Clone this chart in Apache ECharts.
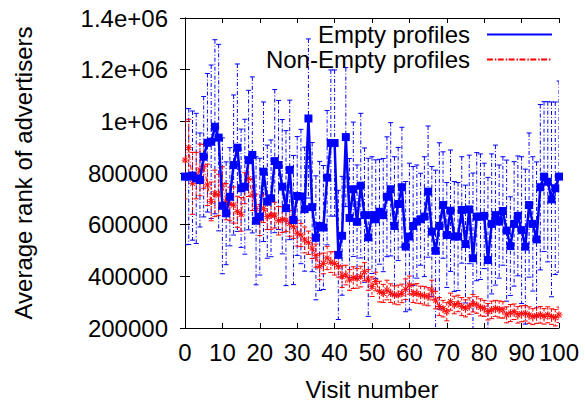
<!DOCTYPE html>
<html>
<head>
<meta charset="utf-8">
<script src="https://cdn.jsdelivr.net/npm/echarts@6/dist/echarts.min.js"></script>
<style>
html, body { margin: 0; padding: 0; background: #fff; }
#chart { width: 585px; height: 402px; }
</style>
</head>
<body>
<div id="chart"></div>
<script>
var emptyMean = [786, 786, 790, 779, 773, 863, 917, 921, 979, 937,
    673, 644, 708, 831, 898, 741, 747, 850, 870, 615,
    631, 805, 689, 702, 846, 831, 747, 664, 812, 618,
    711, 709, 660, 1011, 668, 549, 595, 589, 782, 916,
    916, 483, 557, 939, 626, 737, 611, 751, 637,
    551, 637, 621, 650, 637, 708, 737, 595, 680, 745,
    515, 554, 595, 612, 621, 631, 728, 573, 499, 595,
    676, 560, 654, 554, 554, 657, 525, 659, 470, 631,
    631, 634, 463, 603, 637, 612, 653, 577, 517, 603,
    634, 579, 515, 676, 603, 543, 745, 786, 766, 698,
    741, 786];
var emptyErr = [264, 263, 250, 252, 182, 233, 268, 297, 337, 361,
    263, 199, 190, 271, 324, 229, 261, 270, 302, 248,
    226, 270, 219, 226, 277, 250, 260, 300, 270, 250,
    230, 260, 240, 308, 250, 240, 250, 240, 260, 283,
    283, 250, 230, 269, 230, 260, 220, 280, 260,
    306, 226, 230, 203, 219, 232, 258, 268, 219, 232,
    252, 284, 230, 219, 178, 232, 254, 252, 312, 322,
    206, 203, 235, 213, 209, 206, 228, 210, 330, 248,
    243, 204, 320, 271, 271, 219, 210, 273, 191, 241,
    232, 284, 300, 279, 260, 300, 320, 290, 310, 377,
    334, 370];
var nonEmptyMean = [850, 898, 760, 790, 812, 826, 754, 690, 721, 715,
    754, 689, 680, 676, 650, 640, 741, 779, 715, 663,
    618, 663, 631, 637, 637, 615, 620, 618, 605, 592,
    567, 560, 541, 530, 509, 480, 437, 450, 471, 455,
    450, 437, 399, 405, 386, 395, 392, 399, 418, 386,
    360, 380, 341, 334, 347, 335, 328, 328, 334, 350,
    366, 334, 334, 328, 325, 321, 347, 308, 283, 275,
    263, 302, 289, 295, 283, 276, 285, 296, 289, 280,
    276, 263, 270, 276, 272, 270, 251, 258, 263, 251,
    255, 257, 250, 244, 248, 251, 245, 251, 244, 240,
    251];
var nonEmptyErr = [150, 110, 120, 90, 100, 85, 80, 75, 90, 80,
    70, 70, 65, 70, 60, 65, 60, 70, 60, 55,
    60, 55, 50, 55, 50, 55, 50, 45, 50, 45,
    50, 45, 50, 45, 40, 45, 50, 40, 45, 40,
    45, 40, 42, 38, 40, 42, 38, 40, 35, 40,
    38, 36, 40, 35, 38, 36, 35, 38, 36, 40,
    35, 35, 38, 34, 36, 35, 38, 34, 35, 32,
    35, 33, 34, 32, 35, 33, 32, 34, 32, 33,
    31, 32, 34, 31, 33, 32, 31, 33, 30, 32,
    31, 30, 32, 31, 30, 32, 30, 31, 30, 32,
    30];
var yTicks = [200000, 400000, 600000, 800000, 1000000, 1200000, 1400000];
var xTicks = [0, 10, 20, 30, 40, 50, 60, 70, 80, 90, 100];

var FONT = 'Liberation Sans';
var BLUE = '#0000ff';
var RED = '#ff0000';

function points(mean) {
    return mean.map(function (v, i) { return [i, v * 1000]; });
}
function ranges(mean, err) {
    return mean.map(function (v, i) { return [i, (v - err[i]) * 1000, (v + err[i]) * 1000]; });
}

// error bars with small caps, drawn through the axes
function errorBars(mean, err, color, dash, z) {
    return {
        type: 'custom',
        silent: true,
        clip: true,
        z: z,
        encode: { x: 0, y: [1, 2] },
        data: ranges(mean, err),
        renderItem: function (params, api) {
            var lo = api.coord([api.value(0), api.value(1)]);
            var hi = api.coord([api.value(0), api.value(2)]);
            var w = 2.5;
            var st = { stroke: color, lineWidth: 1, lineDash: dash };
            return {
                type: 'group',
                children: [
                    { type: 'line', shape: { x1: hi[0], y1: hi[1], x2: lo[0], y2: lo[1] }, style: st },
                    { type: 'line', shape: { x1: hi[0] - w, y1: hi[1], x2: hi[0] + w, y2: hi[1] }, style: { stroke: color, lineWidth: 1 } },
                    { type: 'line', shape: { x1: lo[0] - w, y1: lo[1], x2: lo[0] + w, y2: lo[1] }, style: { stroke: color, lineWidth: 1 } }
                ]
            };
        }
    };
}

// asterisk marker made of thin filled bars
var starPath = 'path://M-0.5,-4h1v8h-1z M-4,-0.5h8v1h-8z M-3.2,-2.5L-2.5,-3.2L3.2,2.5L2.5,3.2z M3.2,-2.5L2.5,-3.2L-3.2,2.5L-2.5,3.2z';

// legend samples
var solidIcon = 'path://M0,0h64v2h-64z';
var dashIcon = 'path://';
for (var k = 0; k < 6; k++) {
    var s = k * 11;
    dashIcon += 'M' + s + ',0h6v2h-6z M' + (s + 8) + ',0h1.5v2h-1.5z ';
}
dashIcon += 'M66,0h0.01v2h-0.01z';

var chart = echarts.init(document.getElementById('chart'), null, { renderer: 'svg' });

var option = {
    animation: false,
    backgroundColor: '#fff',
    textStyle: { fontFamily: FONT },
    grid: { left: 185, right: 26, top: 18, bottom: 74, containLabel: false, outerBoundsMode: 'none' },
    legend: {
        orient: 'vertical',
        right: 33,
        top: 22,
        padding: 0,
        itemGap: 0,
        itemWidth: 65,
        itemHeight: 2,
        align: 'right',
        symbolKeepAspect: false,
        selectedMode: false,
        textStyle: { fontFamily: FONT, fontSize: 24, color: '#000', lineHeight: 25, padding: [0, 12, 0, 0] },
        data: [
            { name: 'Empty profiles', icon: solidIcon },
            { name: 'Non-Empty profiles', icon: dashIcon }
        ]
    },
    xAxis: [{
        type: 'value',
        min: 0, max: 100, interval: 10,
        name: 'Visit number',
        nameLocation: 'middle',
        nameGap: 49,
        nameTextStyle: { fontFamily: FONT, fontSize: 24, color: '#000' },
        axisLine: { show: true, lineStyle: { color: '#000', width: 1 } },
        axisTick: { show: true, inside: true, length: 5, lineStyle: { color: '#000' } },
        axisLabel: { fontFamily: FONT, fontSize: 24, color: '#000', margin: 12,
            customValues: xTicks },
        splitLine: { show: false }
    }, {
        type: 'value',
        position: 'top',
        min: 0, max: 100, interval: 10,
        axisLine: { show: true, lineStyle: { color: '#000', width: 1 } },
        axisTick: { show: true, inside: true, length: 5, lineStyle: { color: '#000' } },
        axisLabel: { show: false },
        splitLine: { show: false }
    }],
    yAxis: [{
        type: 'value',
        min: 200000, max: 1400000, interval: 200000,
        name: 'Average rank of advertisers',
        nameLocation: 'middle',
        nameGap: 150,
        nameTextStyle: { fontFamily: FONT, fontSize: 24, color: '#000' },
        axisLine: { show: true, lineStyle: { color: '#000', width: 1 } },
        axisTick: { show: true, inside: true, length: 5, lineStyle: { color: '#000' } },
        axisLabel: {
            fontFamily: FONT, fontSize: 24, color: '#000', margin: 17,
            customValues: yTicks,
            formatter: function (v) {
                return v >= 1000000 ? (v / 1000000) + 'e+06' : String(v);
            }
        },
        splitLine: { show: false }
    }, {
        type: 'value',
        position: 'right',
        min: 200000, max: 1400000, interval: 200000,
        axisLine: { show: true, lineStyle: { color: '#000', width: 1 } },
        axisTick: { show: true, inside: true, length: 5, lineStyle: { color: '#000' } },
        axisLabel: { show: false },
        splitLine: { show: false }
    }],
    series: [
        errorBars(emptyMean, emptyErr, BLUE, [4, 2, 1, 2], 1),
        errorBars(nonEmptyMean, nonEmptyErr, RED, [3, 2], 2),
        {
            name: 'Non-Empty profiles',
            type: 'line',
            z: 3,
            data: points(nonEmptyMean),
            symbol: starPath,
            symbolSize: 7,
            showAllSymbol: true,
            itemStyle: { color: RED },
            lineStyle: { color: RED, width: 1, type: [5, 2, 1, 2] }
        },
        {
            name: 'Empty profiles',
            type: 'line',
            z: 4,
            data: points(emptyMean),
            symbol: 'rect',
            symbolSize: 8,
            showAllSymbol: true,
            itemStyle: { color: BLUE },
            lineStyle: { color: BLUE, width: 2.5 }
        }
    ]
};

chart.setOption(option);
</script>
</body>
</html>
